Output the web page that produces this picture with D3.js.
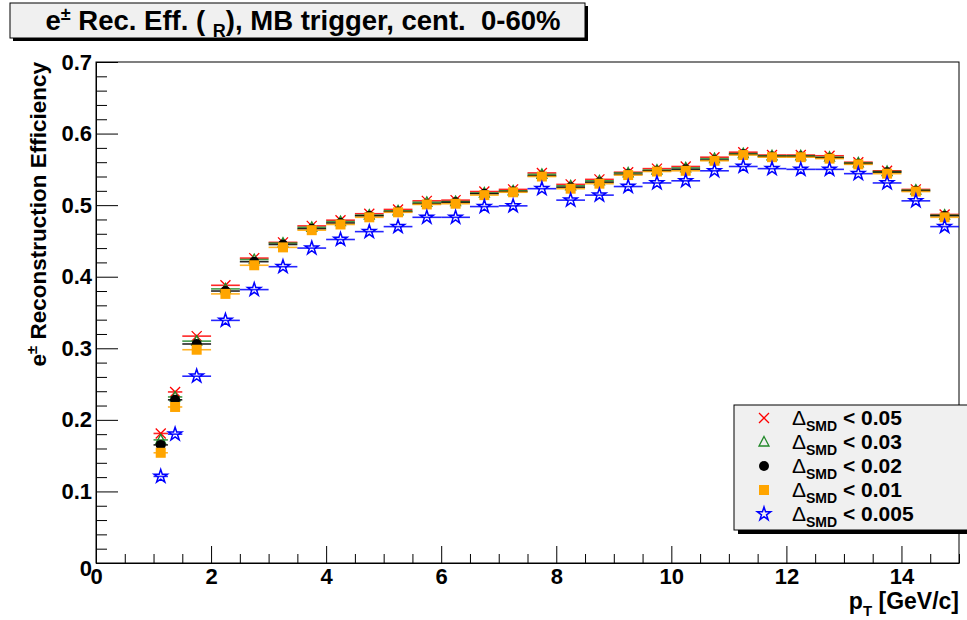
<!DOCTYPE html>
<html>
<head>
<meta charset="utf-8">
<script src="https://cdn.jsdelivr.net/npm/d3@7"></script>
<style>
  body { margin: 0; background: #fff; }
  svg { display: block; font-family: "Liberation Sans", Arial, Helvetica, sans-serif; font-weight: bold; }
  text { white-space: pre; }
</style>
</head>
<body>
<svg id="chart" width="967" height="620"></svg>
<script>
// ---- data ----
const binLow  = [1.0, 1.25, 1.5, 2.0, 2.5, 3.0, 3.5, 4.0, 4.5, 5.0, 5.5, 6.0, 6.5, 7.0, 7.5, 8.0, 8.5, 9.0, 9.5, 10.0, 10.5, 11.0, 11.5, 12.0, 12.5, 13.0, 13.5, 14.0, 14.5];
const binHigh = [1.25, 1.5, 2.0, 2.5, 3.0, 3.5, 4.0, 4.5, 5.0, 5.5, 6.0, 6.5, 7.0, 7.5, 8.0, 8.5, 9.0, 9.5, 10.0, 10.5, 11.0, 11.5, 12.0, 12.5, 13.0, 13.5, 14.0, 14.5, 15.0];
const effSMD005  = [0.181, 0.239, 0.317, 0.388, 0.426, 0.448, 0.471, 0.479, 0.488, 0.494, 0.506, 0.507, 0.519, 0.522, 0.545, 0.529, 0.536, 0.546, 0.551, 0.554, 0.567, 0.574, 0.570, 0.570, 0.569, 0.560, 0.548, 0.522, 0.487];
const effSMD003  = [0.172, 0.232, 0.310, 0.383, 0.424, 0.447, 0.469, 0.477, 0.486, 0.492, 0.504, 0.505, 0.517, 0.520, 0.543, 0.527, 0.534, 0.545, 0.549, 0.552, 0.565, 0.572, 0.569, 0.569, 0.567, 0.559, 0.547, 0.521, 0.486];
const effSMD002  = [0.165, 0.228, 0.306, 0.380, 0.421, 0.445, 0.467, 0.475, 0.485, 0.491, 0.502, 0.504, 0.516, 0.519, 0.541, 0.525, 0.532, 0.543, 0.548, 0.550, 0.563, 0.571, 0.568, 0.568, 0.566, 0.558, 0.546, 0.520, 0.485];
const effSMD001  = [0.154, 0.218, 0.298, 0.376, 0.416, 0.441, 0.465, 0.473, 0.483, 0.490, 0.501, 0.502, 0.514, 0.518, 0.540, 0.523, 0.530, 0.542, 0.547, 0.548, 0.562, 0.570, 0.567, 0.567, 0.565, 0.557, 0.544, 0.519, 0.483];
const effSMD0005 = [0.121, 0.180, 0.261, 0.339, 0.382, 0.414, 0.440, 0.452, 0.463, 0.470, 0.483, 0.483, 0.498, 0.499, 0.523, 0.507, 0.514, 0.526, 0.531, 0.534, 0.548, 0.554, 0.551, 0.550, 0.550, 0.544, 0.531, 0.506, 0.470];
const seriesLabels = ["0.05", "0.03", "0.02", "0.01", "0.005"];
const seriesColors = ["#ff0000", "#22892a", "#000000", "#ffa500", "#0000ff"];
const seriesMarkers = ["cross", "triangle", "circle", "square", "star"];
const yTicks = [0, 0.1, 0.2, 0.3, 0.4, 0.5, 0.6, 0.7];
const xTicks = [0, 2, 4, 6, 8, 10, 12, 14];
const titleText = "Rec. Eff. ( ";

const allSeries = [effSMD005, effSMD003, effSMD002, effSMD001, effSMD0005];

// ---- layout ----
const svg = d3.select("#chart");
const L = 96, R = 959, T = 62, B = 563;
const x = d3.scaleLinear().domain([0, 15]).range([L, R]);
const y = d3.scaleLinear().domain([0, 0.7]).range([B, T]);

// frame
svg.append("rect").attr("x", L).attr("y", T).attr("width", R - L).attr("height", B - T)
  .attr("fill", "#fff").attr("stroke", "#000").attr("stroke-width", 1);

// y axis major + minor
const yMinor = d3.range(0, 0.7001, 0.02).filter(v => Math.abs(v * 10 - Math.round(v * 10)) > 1e-6);
svg.append("g").attr("transform", `translate(${L},0)`)
  .call(d3.axisLeft(y).tickValues(yMinor).tickSizeInner(-11).tickSizeOuter(0).tickFormat(""))
  .call(g => g.select(".domain").remove());
const yAx = svg.append("g").attr("transform", `translate(${L},0)`)
  .call(d3.axisLeft(y).tickValues(yTicks).tickSizeInner(-22).tickSizeOuter(0).tickPadding(4)
    .tickFormat(d => d === 0 ? "0" : d3.format(".1f")(d)));
yAx.select(".domain").attr("stroke", "#000");
yAx.selectAll("text").attr("font-size", 22).attr("font-weight", "bold")
  .attr("font-family", "Liberation Sans, Arial, sans-serif").attr("fill", "#000");
yAx.selectAll("text").filter(d => d === 0).attr("dy", "0.55em").attr("x", -4);

// x axis major + minor
const xMinor = d3.range(0, 15.001, 0.5).filter(v => Math.abs(v / 2 - Math.round(v / 2)) > 1e-6);
svg.append("g").attr("transform", `translate(0,${B})`)
  .call(d3.axisBottom(x).tickValues(xMinor).tickSizeInner(-9).tickSizeOuter(0).tickFormat(""))
  .call(g => g.select(".domain").remove());
const xAx = svg.append("g").attr("transform", `translate(0,${B})`)
  .call(d3.axisBottom(x).tickValues(xTicks).tickSizeInner(-17).tickSizeOuter(0).tickPadding(5)
    .tickFormat(d3.format("d")));
xAx.select(".domain").attr("stroke", "#000");
xAx.selectAll("text").attr("font-size", 22).attr("font-weight", "bold")
  .attr("font-family", "Liberation Sans, Arial, sans-serif").attr("fill", "#000");

// axis titles
const yt = svg.append("text").attr("transform", `translate(46,${T}) rotate(-90)`)
  .attr("text-anchor", "end").attr("font-size", 22.5);
yt.append("tspan").text("e");
yt.append("tspan").attr("font-size", 15).attr("dy", -9).text("±");
yt.append("tspan").attr("dy", 9).text(" Reconstruction Efficiency");

const xt = svg.append("text").attr("x", R).attr("y", 609).attr("text-anchor", "end").attr("font-size", 23);
xt.append("tspan").text("p");
xt.append("tspan").attr("font-size", 15).attr("dy", 7).text("T");
xt.append("tspan").attr("dy", -7).text(" [GeV/c]");

// markers
const star = d3.symbol().type(d3.symbolStar).size(55);
function drawMarker(g, type, color) {
  if (type === "cross") {
    g.append("path").attr("d", "M-5,-5L5,5M-5,5L5,-5").attr("stroke", color).attr("stroke-width", 1.3).attr("fill", "none");
  } else if (type === "triangle") {
    g.append("path").attr("d", "M0,-5.5L5,4L-5,4Z").attr("stroke", color).attr("stroke-width", 1.3).attr("fill", "none");
  } else if (type === "circle") {
    g.append("circle").attr("r", 5).attr("fill", color);
  } else if (type === "square") {
    g.append("rect").attr("x", -5).attr("y", -5).attr("width", 10).attr("height", 10).attr("fill", color);
  } else if (type === "star") {
    g.append("path").attr("d", star()).attr("stroke", color).attr("stroke-width", 1.5).attr("fill", "none");
  }
}

// data series
allSeries.forEach((vals, si) => {
  const color = seriesColors[si];
  const g = svg.append("g");
  vals.forEach((v, i) => {
    const cy = y(v);
    g.append("line").attr("x1", x(binLow[i])).attr("x2", x(binHigh[i]))
      .attr("y1", cy).attr("y2", cy).attr("stroke", color).attr("stroke-width", 1.6).attr("opacity", 0.85);
  });
  vals.forEach((v, i) => {
    const cx = x((binLow[i] + binHigh[i]) / 2);
    const cy = y(v);
    drawMarker(g.append("g").attr("transform", `translate(${cx},${cy})`), seriesMarkers[si], color);
  });
});

// title box
svg.append("rect").attr("x", 13).attr("y", 6).attr("width", 575).attr("height", 35).attr("fill", "#000");
svg.append("rect").attr("x", 10).attr("y", 3).attr("width", 575).attr("height", 35)
  .attr("fill", "#f0f0f0").attr("stroke", "#000").attr("stroke-width", 1);
const tt = svg.append("text").attr("x", 303).attr("y", 30).attr("text-anchor", "middle").attr("font-size", 27.5);
tt.append("tspan").text("e");
tt.append("tspan").attr("font-size", 18).attr("dy", -10).text("±");
tt.append("tspan").attr("dy", 10).text(" " + titleText);
tt.append("tspan").attr("font-size", 18).attr("dy", 7).text("R");
tt.append("tspan").attr("dy", -7).text("), MB trigger, cent.  0-60%");

// legend
const lgX = 734, lgY = 405, lgW = 240, lgH = 125;
svg.append("rect").attr("x", lgX + 4).attr("y", lgY + 4).attr("width", lgW).attr("height", lgH).attr("fill", "#000");
svg.append("rect").attr("x", lgX).attr("y", lgY).attr("width", lgW).attr("height", lgH)
  .attr("fill", "#f0f0f0").attr("stroke", "#000").attr("stroke-width", 1);
seriesLabels.forEach((lab, i) => {
  const ly = 418 + i * 24;
  drawMarker(svg.append("g").attr("transform", `translate(764,${ly})`), seriesMarkers[i], seriesColors[i]);
  const t = svg.append("text").attr("x", 792).attr("y", ly + 7).attr("font-size", 21);
  t.append("tspan").attr("font-weight", "normal").text("Δ");
  t.append("tspan").attr("font-size", 14).attr("dy", 6).text("SMD");
  t.append("tspan").attr("dy", -6).text(" < " + lab);
});
</script>
</body>
</html>
